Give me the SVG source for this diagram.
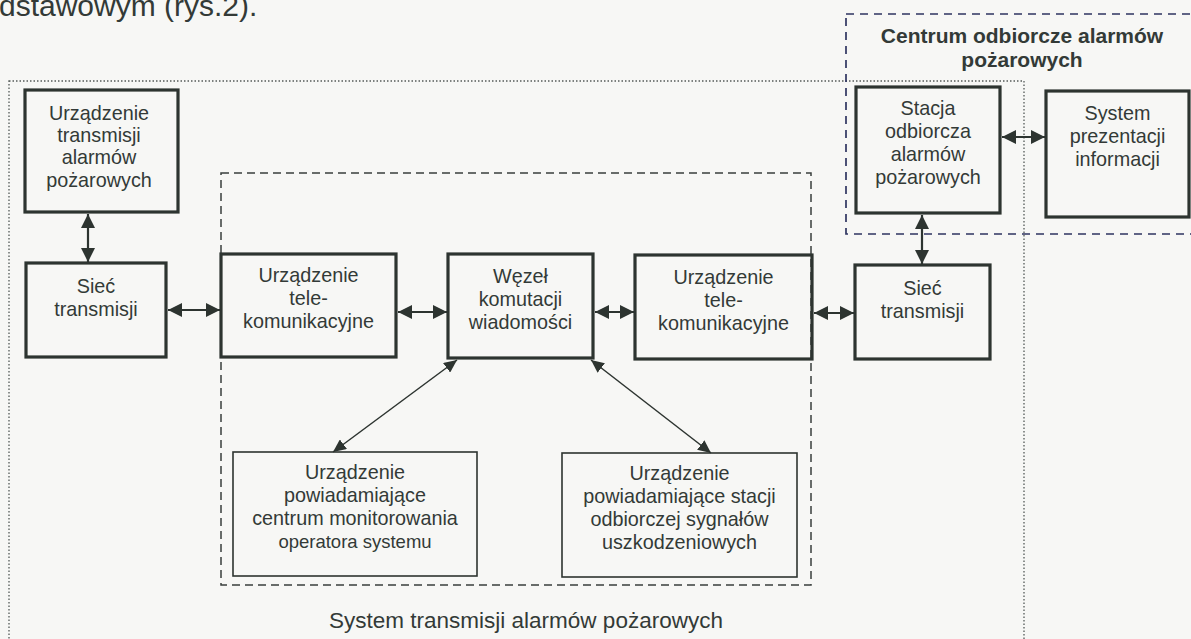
<svg xmlns="http://www.w3.org/2000/svg" width="1191" height="639" viewBox="0 0 1191 639">
<style>
.t{font-family:"Liberation Sans",Arial,sans-serif;font-size:19.8px;fill:#333a37;text-anchor:middle}
.b{font-weight:bold;font-size:21px}
.thick{fill:none;stroke:#2d3430;stroke-width:3.2}
.thin{fill:none;stroke:#2d3430;stroke-width:1.6}
.c{fill:none;stroke:#2d3430;stroke-width:2.2}
.d{fill:none;stroke:#2d3430;stroke-width:1.5}
</style>
<defs>
<marker id="ah" markerUnits="userSpaceOnUse" markerWidth="14" markerHeight="14" refX="14" refY="7" orient="auto-start-reverse" viewBox="0 0 14 14"><path d="M0,0 L14,7 L0,14 z" fill="#2d3430"/></marker>
<marker id="as" markerUnits="userSpaceOnUse" markerWidth="13" markerHeight="12" refX="13" refY="6" orient="auto-start-reverse" viewBox="0 0 13 12"><path d="M0,0 L13,6 L0,12 z" fill="#2d3430"/></marker>
</defs>
<rect x="0" y="0" width="1191" height="639" fill="#f7f7f5"/>
<text x="-1" y="16" style="font-family:'Liberation Sans',Arial,sans-serif;font-size:30px;fill:#333a37">dstawowym (rys.2).</text>
<g id="frames">
<rect x="9" y="81" width="1015" height="620" fill="none" stroke="#555b58" stroke-width="1.3" stroke-dasharray="1.5 2"/>
<rect x="221" y="173" width="590" height="412" fill="none" stroke="#3a3f3d" stroke-width="1.5" stroke-dasharray="8 5"/>
<rect x="846" y="14" width="360" height="220" fill="none" stroke="#2f3560" stroke-width="1.7" stroke-dasharray="8 6"/>
<text class="t b" x="1022" y="43">Centrum odbiorcze alarmów</text>
<text class="t b" x="1022" y="67">pożarowych</text>
<text class="t" x="526" y="628" style="font-size:22.5px">System transmisji alarmów pożarowych</text>
</g>
<g id="connectors">
<line class="c" x1="88" y1="214" x2="88" y2="262" marker-start="url(#ah)" marker-end="url(#ah)"/>
<line class="c" x1="168" y1="310" x2="220" y2="310" marker-start="url(#ah)" marker-end="url(#ah)"/>
<line class="c" x1="398" y1="312" x2="447" y2="312" marker-start="url(#ah)" marker-end="url(#ah)"/>
<line class="c" x1="595" y1="312" x2="634" y2="312" marker-start="url(#ah)" marker-end="url(#ah)"/>
<line class="c" x1="814" y1="313" x2="854" y2="313" marker-start="url(#ah)" marker-end="url(#ah)"/>
<line class="c" x1="1002" y1="137" x2="1045" y2="137" marker-start="url(#ah)" marker-end="url(#ah)"/>
<line class="c" x1="922" y1="215" x2="922" y2="264" marker-start="url(#ah)" marker-end="url(#ah)"/>
<line class="d" x1="457" y1="360" x2="333" y2="452" marker-start="url(#as)" marker-end="url(#as)"/>
<line class="d" x1="591" y1="360" x2="711" y2="453" marker-start="url(#as)" marker-end="url(#as)"/>
</g>
<g id="n-uta">
<rect class="thick" x="25" y="90" width="153" height="122"/>
<text class="t" x="99" y="120">Urządzenie</text>
<text class="t" x="99" y="142">transmisji</text>
<text class="t" x="99" y="164">alarmów</text>
<text class="t" x="99" y="187">pożarowych</text>
</g>
<g id="n-siec1">
<rect class="thick" x="26" y="263" width="140" height="94"/>
<text class="t" x="96" y="293">Sieć</text>
<text class="t" x="96" y="316">transmisji</text>
</g>
<g id="n-tele1">
<rect class="thick" x="221" y="254" width="175" height="103"/>
<text class="t" x="308.5" y="282">Urządzenie</text>
<text class="t" x="308.5" y="305">tele-</text>
<text class="t" x="308.5" y="328">komunikacyjne</text>
</g>
<g id="n-wezel">
<rect class="thick" x="448" y="254" width="145" height="104"/>
<text class="t" x="520.5" y="283">Węzeł</text>
<text class="t" x="520.5" y="306">komutacji</text>
<text class="t" x="520.5" y="329">wiadomości</text>
</g>
<g id="n-tele2">
<rect class="thick" x="635" y="255" width="177" height="104"/>
<text class="t" x="723.5" y="284">Urządzenie</text>
<text class="t" x="723.5" y="307">tele-</text>
<text class="t" x="723.5" y="330">komunikacyjne</text>
</g>
<g id="n-siec2">
<rect class="thick" x="855" y="265" width="135" height="94"/>
<text class="t" x="922.5" y="295">Sieć</text>
<text class="t" x="922.5" y="318">transmisji</text>
</g>
<g id="n-stacja">
<rect class="thick" x="856" y="87" width="144" height="126"/>
<text class="t" x="928" y="115">Stacja</text>
<text class="t" x="928" y="138">odbiorcza</text>
<text class="t" x="928" y="161">alarmów</text>
<text class="t" x="928" y="184">pożarowych</text>
</g>
<g id="n-system">
<rect class="thick" x="1046" y="91" width="143" height="126"/>
<text class="t" x="1117.5" y="120">System</text>
<text class="t" x="1117.5" y="143">prezentacji</text>
<text class="t" x="1117.5" y="166">informacji</text>
</g>
<g id="n-upc">
<rect class="thin" x="233" y="452" width="244" height="124"/>
<text class="t" x="355" y="479">Urządzenie</text>
<text class="t" x="355" y="502">powiadamiające</text>
<text class="t" x="355" y="525">centrum monitorowania</text>
<text class="t" x="355" y="548" style="font-size:18.5px">operatora systemu</text>
</g>
<g id="n-ups">
<rect class="thin" x="562" y="453" width="235" height="124"/>
<text class="t" x="679.5" y="480">Urządzenie</text>
<text class="t" x="679.5" y="503">powiadamiające stacji</text>
<text class="t" x="679.5" y="526">odbiorczej sygnałów</text>
<text class="t" x="679.5" y="549">uszkodzeniowych</text>
</g>
</svg>
